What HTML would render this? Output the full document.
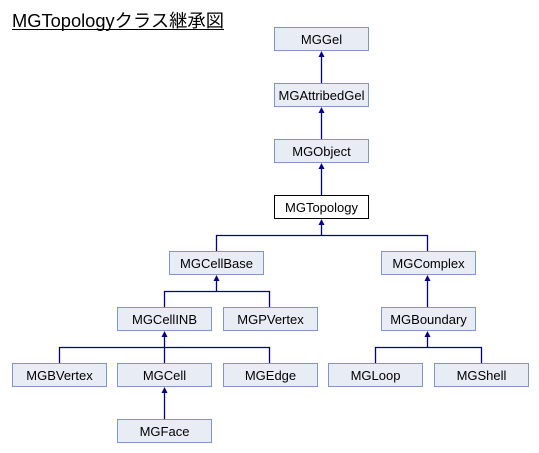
<!DOCTYPE html>
<html><head><meta charset="utf-8"><style>
body{margin:0;background:#fff;width:539px;height:448px;overflow:hidden}
svg text{font-family:"Liberation Sans",sans-serif;font-size:13px;fill:#000}
</style></head><body>
<svg width="539" height="448" xmlns="http://www.w3.org/2000/svg">
<text x="12" y="27" textLength="212" lengthAdjust="spacingAndGlyphs" style="font-size:18px;font-family:'Liberation Sans','Noto Sans CJK JP',sans-serif">MGTopologyクラス継承図</text>
<line x1="12" y1="29.5" x2="224" y2="29.5" stroke="#000" stroke-width="1"/>
<g stroke="#00008b" stroke-width="1.3" fill="none">
<line x1="321.5" y1="56" x2="321.5" y2="83"/>
<line x1="321.5" y1="112" x2="321.5" y2="139"/>
<line x1="321.5" y1="168" x2="321.5" y2="195"/>
<line x1="321.5" y1="224" x2="321.5" y2="235"/>
<polyline points="216.5,251 216.5,235.5 427.5,235.5 427.5,251"/>
<line x1="216.5" y1="280" x2="216.5" y2="291"/>
<polyline points="164.5,307 164.5,291.5 269.5,291.5 269.5,307"/>
<line x1="427.5" y1="280" x2="427.5" y2="307"/>
<line x1="164.5" y1="336" x2="164.5" y2="363"/>
<polyline points="59.5,363 59.5,347.5 269.5,347.5 269.5,363"/>
<line x1="427.5" y1="336" x2="427.5" y2="347"/>
<polyline points="375.5,363 375.5,347.5 481.5,347.5 481.5,363"/>
<line x1="164.5" y1="392" x2="164.5" y2="419"/>
</g>
<g fill="#00008b">
<polygon points="321.5,51 318.5,57 324.5,57"/>
<polygon points="321.5,107 318.5,113 324.5,113"/>
<polygon points="321.5,163 318.5,169 324.5,169"/>
<polygon points="321.5,219 318.5,225 324.5,225"/>
<polygon points="216.5,275 213.5,281 219.5,281"/>
<polygon points="427.5,275 424.5,281 430.5,281"/>
<polygon points="164.5,331 161.5,337 167.5,337"/>
<polygon points="427.5,331 424.5,337 430.5,337"/>
<polygon points="164.5,387 161.5,393 167.5,393"/>
</g>
<g stroke="#7f96cc" fill="#e8ecf5" stroke-width="1">
<rect x="274.5" y="27.5" width="94" height="23"/>
<rect x="274.5" y="83.5" width="94" height="23"/>
<rect x="274.5" y="139.5" width="94" height="23"/>
<rect x="274.5" y="195.5" width="94" height="23" fill="#fff" stroke="#000"/>
<rect x="169.5" y="251.5" width="94" height="23"/>
<rect x="381.5" y="251.5" width="94" height="23"/>
<rect x="117.5" y="307.5" width="94" height="23"/>
<rect x="223.5" y="307.5" width="94" height="23"/>
<rect x="381.5" y="307.5" width="94" height="23"/>
<rect x="12.5" y="363.5" width="94" height="23"/>
<rect x="117.5" y="363.5" width="94" height="23"/>
<rect x="223.5" y="363.5" width="94" height="23"/>
<rect x="328.5" y="363.5" width="94" height="23"/>
<rect x="434.5" y="363.5" width="94" height="23"/>
<rect x="117.5" y="419.5" width="94" height="23"/>
</g>
<g text-anchor="middle">
<text x="321.5" y="44">MGGel</text>
<text x="321.5" y="100">MGAttribedGel</text>
<text x="321.5" y="156">MGObject</text>
<text x="321.5" y="212">MGTopology</text>
<text x="216.5" y="268">MGCellBase</text>
<text x="428.5" y="268">MGComplex</text>
<text x="164.5" y="324">MGCellINB</text>
<text x="270.5" y="324">MGPVertex</text>
<text x="428.5" y="324">MGBoundary</text>
<text x="59.5" y="380">MGBVertex</text>
<text x="164.5" y="380">MGCell</text>
<text x="270.5" y="380">MGEdge</text>
<text x="375.5" y="380">MGLoop</text>
<text x="481.5" y="380">MGShell</text>
<text x="164.5" y="436">MGFace</text>
</g>
</svg>
</body></html>
